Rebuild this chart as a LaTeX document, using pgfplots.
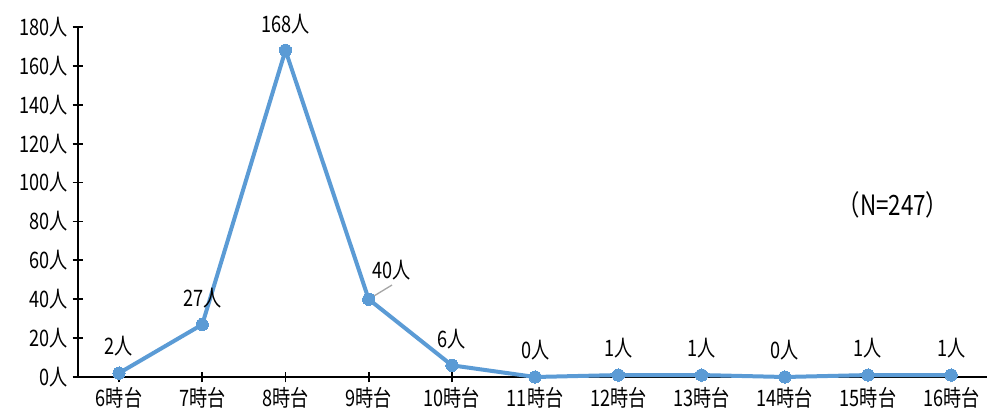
\documentclass[border=0pt]{standalone}
\usepackage{fontspec}
\setmainfont{Noto Sans CJK JP}[FakeStretch=0.8]
\usepackage{pgfplots}
\pgfplotsset{compat=1.18}
\definecolor{lineblue}{HTML}{5B9BD5}
\begin{document}
\begin{tikzpicture}
\useasboundingbox (-58.5pt,-30pt) rectangle (681.75pt,282.75pt);
\begin{axis}[at={(0,0)}, anchor=south west, scale only axis,
  width=681.75pt, height=262.5pt,
  xmin=-0.493, xmax=10.43, ymin=0, ymax=180,
  axis x line=bottom, axis y line=left,
  axis line style={-, line width=1.3pt, black},
  xtick={0,...,10},
  xticklabels={6時台,7時台,8時台,9時台,10時台,11時台,12時台,13時台,14時台,15時台,16時台},
  ytick={0,20,...,180},
  yticklabels={0人,20人,40人,60人,80人,100人,120人,140人,160人,180人},
  tick align=center, major tick length=8pt,
  tick style={line width=1.3pt, black},
  ticklabel style={font=\fontsize{17}{19}\selectfont, text=black},
  clip=false,
  point meta=explicit symbolic,
  nodes near coords,
  every node near coord/.append style={anchor=center, yshift=20pt, font=\fontsize{17}{19}\selectfont, text=black},
]
\addplot[color=lineblue, line width=3pt, mark=*, mark size=4.6pt, mark options={fill=lineblue, draw=lineblue, line width=0pt}]
  coordinates {(0,2)[2人] (1,27)[27人] (2,168)[168人] (3,40)[] (4,6)[6人] (5,0)[0人] (6,1)[1人] (7,1)[1人] (8,0)[0人] (9,1)[1人] (10,1)[1人]};
\draw[gray!70, line width=1pt] (axis cs:3.03,40.8) -- (axis cs:3.28,47.3);
\node[font=\fontsize{17}{19}\selectfont] at (axis cs:3.28,55) {40人};
\node[font=\fontsize{21}{24}\selectfont] at (axis cs:9.30,88.5) {（N=247）};
\end{axis}
\end{tikzpicture}
\end{document}
